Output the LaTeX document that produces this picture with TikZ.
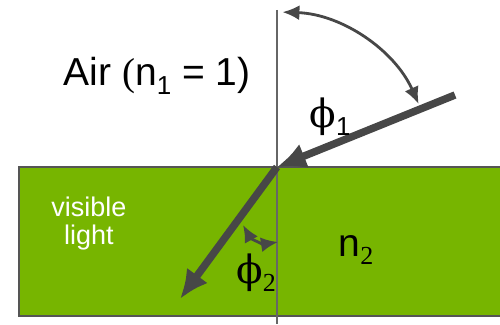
\documentclass[tikz,border=0pt]{standalone}
\usepackage{fontspec}
\setmainfont{Liberation Sans}
\newfontfamily\grkfont{DejaVu Serif}
\newfontfamily\serfont{Liberation Serif}
\usetikzlibrary{arrows.meta}
\definecolor{SlabGreen}{HTML}{77B500}
\definecolor{RayGray}{HTML}{474747}
\definecolor{EdgeGray}{HTML}{555555}
\definecolor{NormGray}{HTML}{666666}
\newcommand{\lowsub}[1]{\raisebox{-0.4ex}{\fontsize{26}{26}\selectfont #1}}
\begin{document}
\begin{tikzpicture}[
  x=1pt,y=1pt,
  ray/.style={-{Latex[length=29pt,width=26pt]},line width=7.5pt,draw=RayGray},
  anglearc/.style={{Latex[length=17pt,width=15pt]}-{Latex[length=17pt,width=15pt]},line width=2.8pt,draw=RayGray},
  lbl/.style={inner sep=0pt,font=\fontsize{39}{42}\selectfont}
]
\useasboundingbox (0,0) rectangle (500,324);
% slab
\fill[SlabGreen] (19,8) rectangle (502,157);
\draw[EdgeGray,line width=2.5pt] (502,157) -- (19,157) -- (19,8) -- (502,8);
% normal
\coordinate (O) at (277,157);
\coordinate (ntop) at (277,314);
\coordinate (nbot) at (277,0);
\draw[NormGray,line width=1.5pt] (ntop) -- (nbot);
% rays
\coordinate (src) at (455,229);
\coordinate (dst) at (180,25);
\draw[ray] (src) -- (O);
\draw[ray] (O) -- (dst);
% angles
\draw[anglearc] (O) ++(24:155) arc[start angle=24,end angle=88,radius=155];
\coordinate (a2) at (243,99);
\coordinate (b2) at (278,82);
\draw[anglearc] (a2) to[bend right=35] (b2);
% labels
\node[lbl] (air) at (157,248) {Air {\serfont(}n\lowsub{1} = 1)};
\node[lbl] (phi1) at (330,207) {{\grkfont ϕ}\lowsub{1}};
\node[lbl] (phi2) at (256,51) {{\grkfont ϕ}\lowsub{\serfont 2}};
\node[lbl] (n2) at (356,74) {n\lowsub{\serfont 2}};
\node[inner sep=0pt,align=center,text=white,font=\fontsize{27}{28}\selectfont] (vis) at (89,100) {visible\\light};
\end{tikzpicture}
\end{document}
